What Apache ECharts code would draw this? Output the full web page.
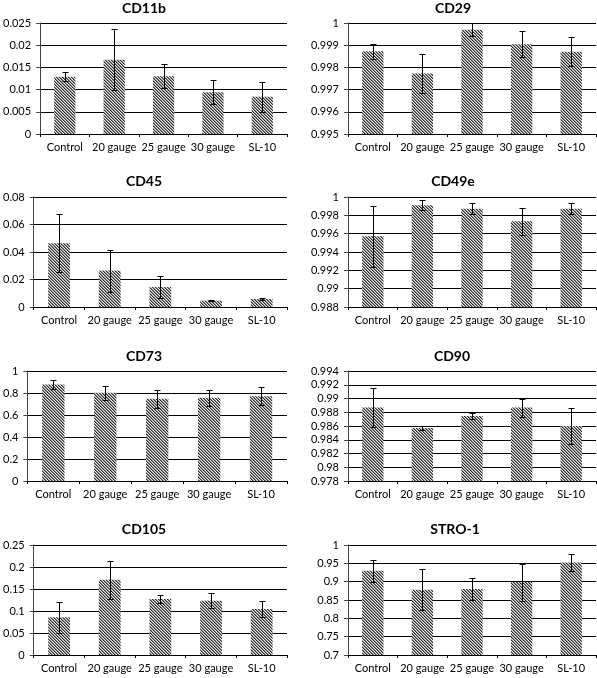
<!DOCTYPE html>
<html><head><meta charset="utf-8">
<script src="https://cdn.jsdelivr.net/npm/echarts@6/dist/echarts.min.js"></script>
<style>html,body{margin:0;padding:0;background:#fff}#c{width:597px;height:678px}</style>
</head><body><div id="c"></div>
<script>
// ---- data ----
const categories = ['Control', '20 gauge', '25 gauge', '30 gauge', 'SL-10'];
const panelTitles = ['CD11b', 'CD29', 'CD45', 'CD49e', 'CD73', 'CD90', 'CD105', 'STRO-1'];

const cd11bMean = [0.0129, 0.0167, 0.0130, 0.0094, 0.0084];
const cd11bErr  = [0.0010, 0.0069, 0.0027, 0.0027, 0.0034];
const cd29Mean  = [0.99873, 0.99773, 0.99970, 0.99904, 0.99870];
const cd29Err   = [0.00033, 0.00088, 0.00030, 0.00058, 0.00065];
const cd45Mean  = [0.0464, 0.0265, 0.0145, 0.0046, 0.0058];
const cd45Err   = [0.0210, 0.0153, 0.0078, 0.0002, 0.0004];
const cd49eMean = [0.99571, 0.99909, 0.99873, 0.99735, 0.99873];
const cd49eErr  = [0.00335, 0.00055, 0.00062, 0.00148, 0.00062];
const cd73Mean  = [0.877, 0.802, 0.747, 0.756, 0.771];
const cd73Err   = [0.045, 0.066, 0.080, 0.072, 0.082];
const cd90Mean  = [0.98868, 0.98571, 0.98745, 0.98868, 0.98600];
const cd90Err   = [0.00280, 0.00030, 0.00050, 0.00130, 0.00265];
const cd105Mean = [0.0858, 0.1709, 0.1273, 0.1235, 0.1047];
const cd105Err  = [0.0350, 0.0430, 0.0085, 0.0170, 0.0190];
const stro1Mean = [0.9295, 0.8780, 0.8798, 0.8988, 0.9521];
const stro1Err  = [0.0295, 0.0555, 0.0310, 0.0505, 0.0235];

const yMins  = [0, 0.995, 0, 0.988, 0, 0.978, 0, 0.7];
const yMaxs  = [0.025, 1, 0.08, 1, 1, 0.994, 0.25, 1];
const ySteps = [0.005, 0.001, 0.02, 0.002, 0.2, 0.002, 0.05, 0.05];

const means = [cd11bMean, cd29Mean, cd45Mean, cd49eMean, cd73Mean, cd90Mean, cd105Mean, stro1Mean];
const errs  = [cd11bErr, cd29Err, cd45Err, cd49eErr, cd73Err, cd90Err, cd105Err, stro1Err];

// ---- layout ----
const grids = [
  {left: 39,  top: 23,  w: 248, h: 111},
  {left: 348, top: 23,  w: 248, h: 111},
  {left: 33,  top: 197, w: 254, h: 110},
  {left: 348, top: 197, w: 248, h: 110},
  {left: 27,  top: 371, w: 260, h: 110},
  {left: 348, top: 371, w: 248, h: 110},
  {left: 33,  top: 545, w: 254, h: 110},
  {left: 348, top: 545, w: 248, h: 110}
];
const titlePos = [[144, 8], [453, 8], [144, 181], [453, 181], [144, 356], [452, 356], [144, 529], [455, 529]];

// hatch pattern (fine "\" diagonals)
const pc = document.createElement('canvas');
pc.width = 3; pc.height = 3;
const pctx = pc.getContext('2d');
const shades = ['#2a2a2a', '#8a8a8a', '#ececec'];
for (let y = 0; y < 3; y++) for (let x = 0; x < 3; x++) {
  pctx.fillStyle = shades[(((x - y) % 3) + 3) % 3];
  pctx.fillRect(x, y, 1, 1);
}
const hatch = {image: pc, repeat: 'repeat'};

const FONT = 'Lato';
const fmt = v => String(+(+v).toFixed(4));

const option = {
  animation: false,
  backgroundColor: '#fff',
  grid: [], xAxis: [], yAxis: [], series: [], graphic: []
};

for (let i = 0; i < 8; i++) {
  const g = grids[i];
  option.grid.push({left: g.left, top: g.top, width: g.w, height: g.h, containLabel: false});
  option.xAxis.push({
    type: 'category', gridIndex: i, data: categories,
    axisLine: {show: true, lineStyle: {color: '#000', width: 1}},
    axisTick: {show: true, length: 3, interval: 0, lineStyle: {color: '#000'}},
    axisLabel: {interval: 0, margin: 8, color: '#000', fontFamily: FONT, fontSize: 11}
  });
  option.yAxis.push({
    type: 'value', gridIndex: i, min: yMins[i], max: yMaxs[i], interval: ySteps[i],
    axisLine: {show: true, lineStyle: {color: '#444', width: 1}},
    axisTick: {show: true, length: 4, lineStyle: {color: '#444'}},
    axisLabel: {margin: 9, color: '#000', fontFamily: FONT, fontSize: 11, formatter: fmt},
    splitLine: {show: true, lineStyle: {color: '#000', width: 1}}
  });
  option.series.push({
    type: 'bar', xAxisIndex: i, yAxisIndex: i, data: means[i],
    barWidth: '43%', clip: true, z: 2,
    itemStyle: {color: hatch}
  });
  option.series.push({
    type: 'custom', xAxisIndex: i, yAxisIndex: i, clip: false, z: 5,
    data: means[i].map((m, k) => [k, m, errs[i][k]]),
    encode: {x: 0, y: 1},
    renderItem: function (params, api) {
      const k = api.value(0), m = api.value(1), e = api.value(2);
      const hi = api.coord([k, m + e]);
      const lo = api.coord([k, m - e]);
      const x = Math.round(hi[0]) + 0.5;
      const y1 = Math.round(hi[1]) + 0.5, y2 = Math.round(lo[1]) + 0.5;
      const hw = 3;
      const st = {stroke: '#000', lineWidth: 1};
      return {type: 'group', children: [
        {type: 'line', shape: {x1: x, y1: y1, x2: x, y2: y2}, style: st},
        {type: 'line', shape: {x1: x - hw, y1: y1, x2: x + hw, y2: y1}, style: st},
        {type: 'line', shape: {x1: x - hw, y1: y2, x2: x + hw, y2: y2}, style: st}
      ]};
    }
  });
  option.graphic.push({
    type: 'text', x: titlePos[i][0], y: titlePos[i][1],
    style: {text: panelTitles[i], fill: '#000', font: 'bold 14px Lato', align: 'center', verticalAlign: 'middle'}
  });
}

const chart = echarts.init(document.getElementById('c'), null, {renderer: 'canvas'});
chart.setOption(option);
</script>
</body></html>
